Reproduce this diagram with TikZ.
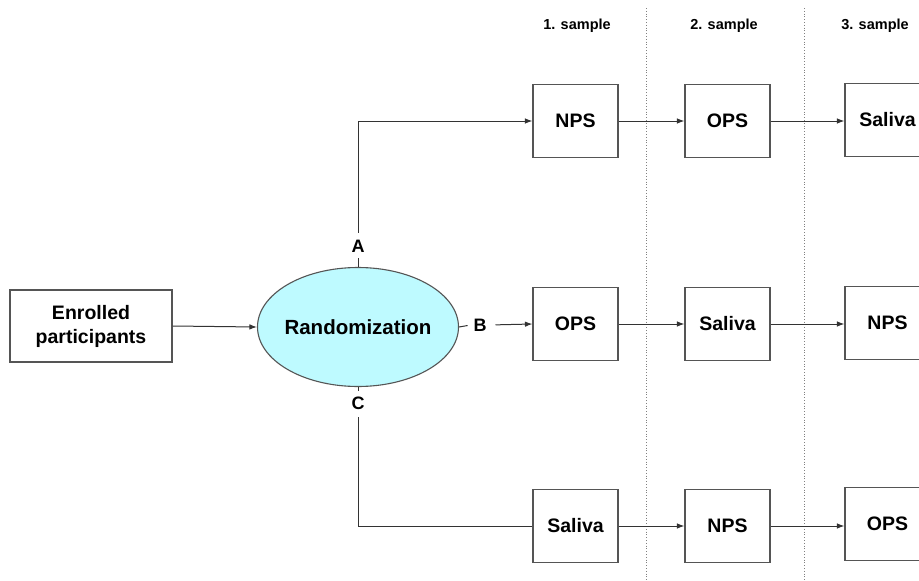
\documentclass[tikz,border=0pt]{standalone}
\usepackage{fontspec}
\setmainfont{Liberation Sans}
\usetikzlibrary{shapes.geometric,arrows.meta}
\definecolor{boxline}{RGB}{85,85,85}
\definecolor{ellfill}{RGB}{190,250,255}
\begin{document}
\begin{tikzpicture}[x=1pt,y=-1pt,
  box/.style={draw=boxline,line width=1.1pt,minimum width=85pt,minimum height=73pt,inner sep=0pt,font=\fontsize{19.5}{24}\selectfont\bfseries},
  conn/.style={draw=black!80,line width=1pt},
  arr/.style={conn,-{Latex[length=7.5pt,width=5.5pt]}},
  lbl/.style={font=\fontsize{18}{20}\selectfont\bfseries,inner sep=0pt,outer sep=3pt},
  hdr/.style={font=\fontsize{14.5}{17}\selectfont\bfseries},
  sepline/.style={draw=gray,dotted,line width=0.8pt}]
\useasboundingbox (0,0) rectangle (919,581);
\fill[white] (0,0) rectangle (919,581);
% separators
\coordinate (s1t) at (646,8);
\coordinate (s1b) at (646,581);
\coordinate (s2t) at (804,8);
\coordinate (s2b) at (804,581);
\draw[sepline] (s1t) -- (s1b);
\draw[sepline] (s2t) -- (s2b);
% headers
\node[hdr] (h1) at (577,26) {1. sample};
\node[hdr] (h2) at (724,26) {2. sample};
\node[hdr] (h3) at (875,26) {3. sample};
% left part
\node[box,minimum width=162pt,minimum height=72pt,align=center] (enr) at (91,326) {Enrolled\\participants};
\node[ellipse,draw=boxline,line width=1.1pt,fill=ellfill,minimum width=201pt,minimum height=119pt,inner xsep=-4pt,inner ysep=0pt,font=\fontsize{20.5}{24}\selectfont\bfseries] (rand) at (358,327) {Randomization};
\node[lbl] (A) at (358,246) {A};
\node[lbl] (B) at (480,325) {B};
\node[lbl] (C) at (358,403) {C};
% boxes
\node[box] (r1c1) at (575.5,121) {NPS};
\node[box] (r1c2) at (727.5,121) {OPS};
\node[box] (r1c3) at (887.5,120) {Saliva};
\node[box] (r2c1) at (575.5,324) {OPS};
\node[box] (r2c2) at (727.5,324) {Saliva};
\node[box] (r2c3) at (887.5,323) {NPS};
\node[box] (r3c1) at (575.5,526) {Saliva};
\node[box] (r3c2) at (727.5,526) {NPS};
\node[box] (r3c3) at (887.5,524) {OPS};
% connectors
\draw[arr] (enr.east) -- (rand.west);
\draw[conn,shorten >=3pt] (rand.north) -- (A.south);
\draw[conn,shorten >=3pt] (rand.east) -- (B.west);
\draw[conn,shorten >=3pt] (rand.south) -- (C.north);
\draw[arr,shorten <=4pt] (A.north) |- (r1c1.west);
\draw[arr,shorten <=6pt] (B.east) -- (r2c1.west);
\draw[conn,shorten <=5pt] (C.south) |- (r3c1.west);
\draw[arr] (r1c1.east) -- (r1c1.east -| r1c2.west);
\draw[arr] (r1c2.east) -- (r1c2.east -| r1c3.west);
\draw[arr] (r2c1.east) -- (r2c1.east -| r2c2.west);
\draw[arr] (r2c2.east) -- (r2c2.east -| r2c3.west);
\draw[arr] (r3c1.east) -- (r3c1.east -| r3c2.west);
\draw[arr] (r3c2.east) -- (r3c2.east -| r3c3.west);
\end{tikzpicture}
\end{document}
